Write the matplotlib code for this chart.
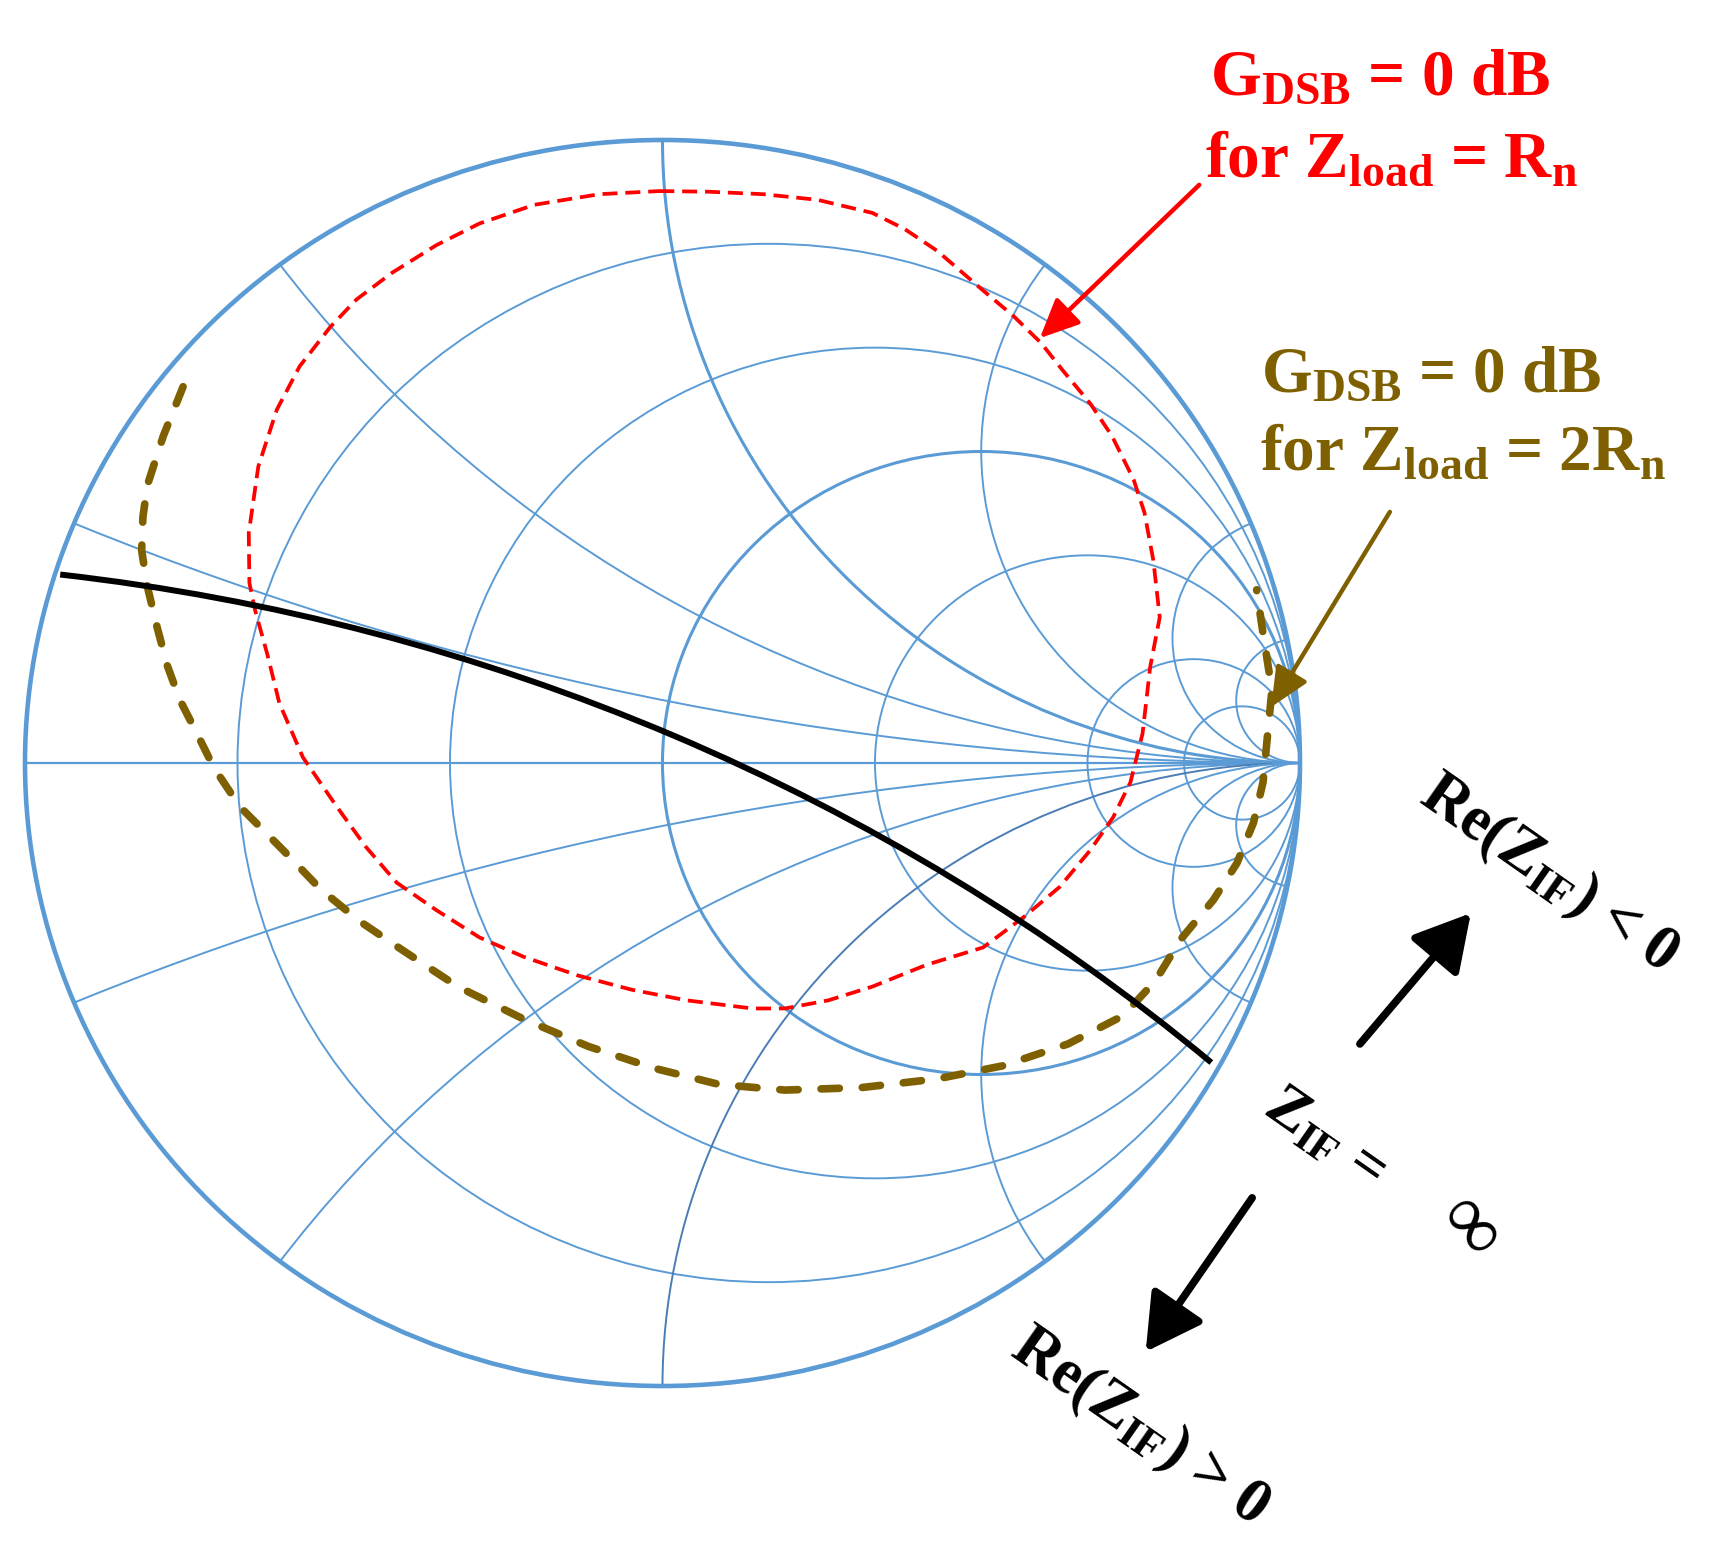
import matplotlib
matplotlib.use("Agg")
import matplotlib.pyplot as plt
from matplotlib.patches import Circle, Arc

plt.rcParams['mathtext.fontset'] = 'custom'
plt.rcParams['mathtext.rm'] = 'Liberation Serif'
plt.rcParams['mathtext.bf'] = 'Liberation Serif:bold'
plt.rcParams['mathtext.it'] = 'Liberation Serif:italic'

# Smith chart grid values
r_values = [0.2, 0.5, 1, 2, 5, 10]
x_values = [0.2, 0.5, 1, 2, 5, 10]
thick_values = [1]

# G_DSB = 0 dB contour for Z_load = R_n (reflection coefficient, real / imag)
red_re = [-0.005, 0.072, 0.158, 0.243, 0.329, 0.380, 0.431, 0.500, 0.551, 0.594,
          0.628, 0.671, 0.705, 0.739, 0.756, 0.770, 0.780, 0.765, 0.753, 0.734,
          0.707, 0.671, 0.623, 0.567, 0.503, 0.414, 0.329, 0.260, 0.192, 0.141,
          0.038, -0.048, -0.133, -0.218, -0.287, -0.355, -0.417, -0.465, -0.511, -0.564,
          -0.601, -0.620, -0.639, -0.648, -0.649, -0.634, -0.605, -0.569, -0.521, -0.480,
          -0.424, -0.355, -0.287, -0.201, -0.099, -0.005]
red_im = [0.918, 0.917, 0.913, 0.904, 0.883, 0.857, 0.822, 0.761, 0.717, 0.674,
          0.630, 0.577, 0.525, 0.455, 0.402, 0.325, 0.234, 0.154, 0.047, -0.031,
          -0.087, -0.140, -0.199, -0.247, -0.296, -0.324, -0.359, -0.381, -0.394, -0.394,
          -0.381, -0.364, -0.341, -0.311, -0.280, -0.236, -0.192, -0.135, -0.070, 0.009,
          0.096, 0.175, 0.245, 0.289, 0.369, 0.476, 0.567, 0.637, 0.700, 0.744,
          0.787, 0.831, 0.866, 0.896, 0.913, 0.918]

# G_DSB = 0 dB contour for Z_load = 2R_n
brown_re = [-0.752, -0.783, -0.808, -0.815, -0.817, -0.808, -0.793, -0.777, -0.757, -0.731,
            -0.704, -0.663, -0.595, -0.536, -0.475, -0.407, -0.321, -0.218, -0.116, -0.013,
            0.089, 0.192, 0.312, 0.431, 0.534, 0.636, 0.722, 0.773, 0.813, 0.864,
            0.901, 0.927, 0.942, 0.951, 0.956, 0.942, 0.932]
brown_im = [0.604, 0.525, 0.446, 0.395, 0.341, 0.283, 0.219, 0.157, 0.101, 0.049,
            -0.007, -0.070, -0.140, -0.203, -0.254, -0.301, -0.359, -0.411, -0.455, -0.490,
            -0.516, -0.525, -0.521, -0.507, -0.486, -0.451, -0.406, -0.350, -0.283, -0.220,
            -0.161, -0.096, -0.031, 0.065, 0.117, 0.208, 0.278]

# Re(Z_IF) = 0 boundary: circle in the reflection plane (center, radius, angle span in deg)
boundary_center = (-1.335, -3.07)
boundary_radius = 3.395
boundary_theta = (49.7, 83.4)

blue = '#5b9bd5'
red = '#ff0000'
brown = '#7f6000'

fig = plt.figure(figsize=(17.09, 15.43), dpi=100)
ax = fig.add_axes([0, 0, 1, 1])
ax.set_xlim(-1.0392, 1.6416)
ax.set_ylim(-1.2520, 1.2247)
ax.axis('off')

outer = Circle((0, 0), 1, fill=False, lw=3.3, color=blue, zorder=3)
ax.add_patch(outer)
ax.plot([-1, 1], [0, 0], color=blue, lw=1.6, zorder=2)

for r in r_values:
    lw = 2.2 if r in thick_values else 1.4
    c = Circle((r / (1 + r), 0), 1 / (1 + r), fill=False, lw=lw, color=blue, zorder=2)
    ax.add_patch(c)

for x in x_values:
    for s in (1, -1):
        lw = 2.2 if (x in thick_values and s == 1) else 1.4
        col = '#4a7db5' if (x == 1 and s == -1) else blue
        c = Circle((1, s / x), 1 / x, fill=False, lw=lw, color=col, zorder=2)
        ax.add_patch(c)
        c.set_clip_path(outer)

ax.plot(red_re, red_im, color=red, lw=2.7, dashes=(4.0, 2.1), zorder=4)
ax.plot(brown_re, brown_im, color=brown, lw=5.5, dashes=(2.4, 3.0),
        dash_capstyle='round', zorder=4)
ax.add_patch(Arc(boundary_center, 2 * boundary_radius, 2 * boundary_radius,
                 theta1=boundary_theta[0], theta2=boundary_theta[1],
                 color='black', lw=4.3, zorder=5))

# arrows
ax.annotate('', xy=(0.592, 0.682), xytext=(0.842, 0.928),
            arrowprops=dict(arrowstyle='-|>,head_length=24,head_width=11', mutation_scale=1,
                            lw=3.2, color=red, shrinkA=0, shrinkB=0))
ax.annotate('', xy=(0.955, 0.090), xytext=(1.141, 0.403),
            arrowprops=dict(arrowstyle='-|>,head_length=24,head_width=11', mutation_scale=1,
                            lw=3.2, color=brown, shrinkA=0, shrinkB=0))
ax.annotate('', xy=(1.268, -0.241), xytext=(1.094, -0.451),
            arrowprops=dict(arrowstyle='-|>,head_length=34,head_width=19', mutation_scale=1,
                            lw=5.5, color='black', shrinkA=0, shrinkB=0))
ax.annotate('', xy=(0.758, -0.945), xytext=(0.925, -0.698),
            arrowprops=dict(arrowstyle='-|>,head_length=34,head_width=19', mutation_scale=1,
                            lw=5.5, color='black', shrinkA=0, shrinkB=0))

font = ['Liberation Serif', 'DejaVu Serif']
fs = 47
fig.text(0.708, 0.9384, r'G$_{\mathbf{DSB}}$ = 0 dB', color=red, fontsize=fs,
         family=font, weight='bold', ha='left', va='baseline')
fig.text(0.705, 0.8853, r'for Z$_{\mathbf{load}}$ = R$_{\mathbf{n}}$', color=red, fontsize=fs,
         family=font, weight='bold', ha='left', va='baseline')
fig.text(0.738, 0.746, r'G$_{\mathbf{DSB}}$ = 0 dB', color=brown, fontsize=fs,
         family=font, weight='bold', ha='left', va='baseline')
fig.text(0.737, 0.6954, r'for Z$_{\mathbf{load}}$ = 2R$_{\mathbf{n}}$', color=brown, fontsize=fs,
         family=font, weight='bold', ha='left', va='baseline')

fig.text(0.906, 0.433, r'Re(Z$_{\mathbf{IF}}$) < 0', color='black', fontsize=45,
         family=font, weight='bold', rotation=-35, rotation_mode='anchor',
         ha='center', va='center')
fig.text(0.775, 0.262, r'Z$_{\mathbf{IF}}$ =', color='black', fontsize=44,
         family=font, weight='bold', rotation=-35, rotation_mode='anchor',
         ha='center', va='center')
fig.text(0.859, 0.203, '\u221e', color='black', fontsize=58,
         family=font, weight='bold', rotation=-50, rotation_mode='anchor',
         ha='center', va='center')
fig.text(0.667, 0.075, r'Re(Z$_{\mathbf{IF}}$) > 0', color='black', fontsize=45,
         family=font, weight='bold', rotation=-35, rotation_mode='anchor',
         ha='center', va='center')

fig.savefig('out.png', dpi=100)
